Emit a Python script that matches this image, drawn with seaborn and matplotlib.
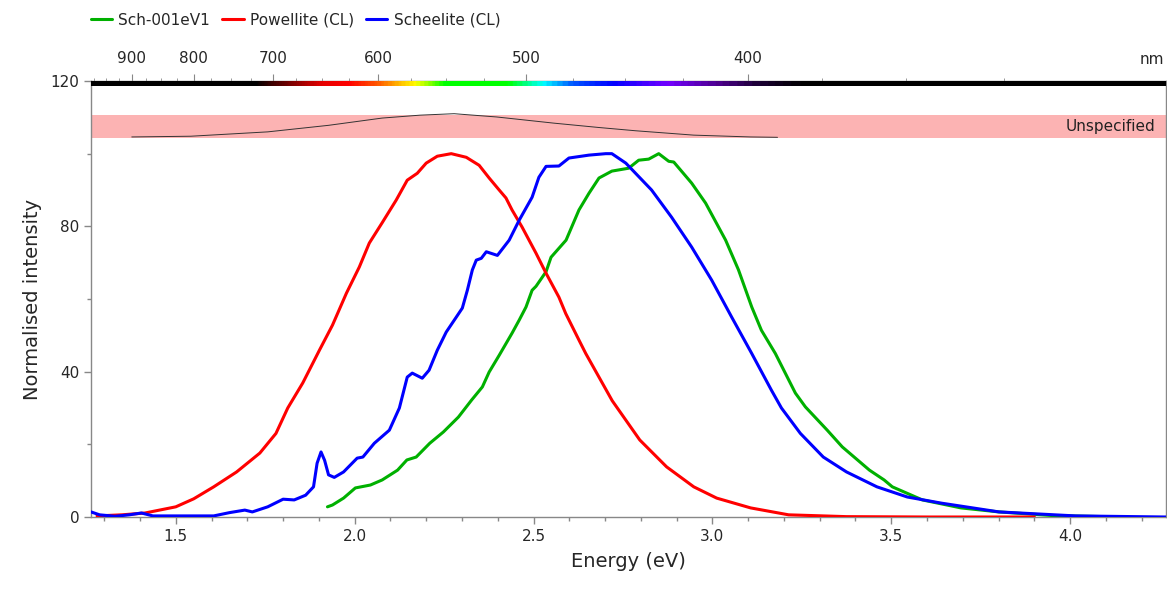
import numpy as np
import pandas as pd
import seaborn as sns
import matplotlib.pyplot as plt
import matplotlib.ticker as ticker
from matplotlib.colors import LinearSegmentedColormap

# Powellite (CL)
pow_ev = [1.28, 1.35, 1.414, 1.5, 1.55, 1.606, 1.67, 1.735, 1.78, 1.813, 1.855,
          1.902, 1.938, 1.977, 2.013, 2.041, 2.077, 2.116, 2.147, 2.175, 2.2,
          2.231, 2.27, 2.312, 2.348, 2.376, 2.404, 2.423, 2.44, 2.468, 2.507,
          2.535, 2.571, 2.59, 2.627, 2.646, 2.683, 2.72, 2.797, 2.872, 2.948,
          3.012, 3.107, 3.213, 3.375, 3.6, 3.9]
pow_int = [0.3, 0.6, 1.1, 2.8, 5.0, 8.3, 12.4, 17.6, 23.0, 30.0, 36.9,
           46.0, 52.8, 61.6, 68.8, 75.4, 81.0, 87.2, 92.7, 94.6, 97.4,
           99.3, 100.0, 99.0, 96.8, 93.3, 90.0, 87.8, 84.5, 79.8, 72.6,
           67.1, 60.5, 56.0, 48.7, 45.0, 38.5, 32.0, 21.2, 13.8, 8.3,
           5.2, 2.5, 0.6, 0.1, 0.0, 0.0]

# Scheelite (CL)
sch_ev = [1.263, 1.287, 1.33, 1.37, 1.404, 1.436, 1.542, 1.606, 1.65, 1.693,
          1.714, 1.757, 1.8, 1.831, 1.863, 1.885, 1.895, 1.906, 1.916, 1.927,
          1.943, 1.969, 2.007, 2.023, 2.055, 2.097, 2.125, 2.147, 2.161, 2.189,
          2.208, 2.231, 2.256, 2.284, 2.301, 2.315, 2.329, 2.34, 2.354, 2.368,
          2.399, 2.432, 2.46, 2.496, 2.515, 2.535, 2.571, 2.599, 2.655, 2.702,
          2.719, 2.758, 2.83, 2.886, 2.942, 2.998, 3.054, 3.11, 3.165, 3.193,
          3.246, 3.31, 3.375, 3.46, 3.545, 3.641, 3.801, 4.015, 4.268]
sch_int = [1.4, 0.6, 0.2, 0.6, 1.1, 0.3, 0.3, 0.3, 1.2, 1.9,
           1.4, 2.8, 4.9, 4.7, 6.0, 8.3, 14.8, 17.9, 15.6, 11.6,
           10.9, 12.4, 16.2, 16.5, 20.3, 23.9, 30.0, 38.5, 39.6, 38.2,
           40.4, 45.9, 50.9, 55.0, 57.5, 62.4, 68.0, 70.7, 71.2, 73.0,
           72.0, 76.2, 81.7, 88.0, 93.5, 96.5, 96.6, 98.8, 99.6, 100.0,
           100.0, 97.4, 90.0, 82.5, 74.3, 65.2, 55.0, 45.0, 34.9, 30.0,
           23.0, 16.5, 12.4, 8.3, 5.5, 3.8, 1.4, 0.3, 0.0]

# Sch-001eV1
s001_ev = [1.924, 1.938, 1.969, 2.002, 2.044, 2.077, 2.12, 2.146, 2.172, 2.21,
           2.248, 2.29, 2.327, 2.357, 2.376, 2.404, 2.44, 2.46, 2.479, 2.496,
           2.507, 2.535, 2.549, 2.591, 2.627, 2.655, 2.683, 2.719, 2.766, 2.794,
           2.822, 2.85, 2.878, 2.892, 2.942, 2.981, 3.037, 3.073, 3.11, 3.137,
           3.176, 3.232, 3.26, 3.321, 3.363, 3.439, 3.48, 3.503, 3.587, 3.695,
           3.801, 3.95, 4.1]
s001_int = [2.8, 3.3, 5.2, 8.0, 8.8, 10.2, 12.9, 15.7, 16.5, 20.3,
            23.4, 27.5, 32.2, 35.8, 39.9, 44.5, 50.6, 54.2, 57.8, 62.4,
            63.5, 67.5, 71.5, 76.2, 84.5, 89.1, 93.3, 95.2, 96.0, 98.2,
            98.5, 100.0, 97.9, 97.7, 91.9, 86.4, 76.2, 68.0, 57.8, 51.4,
            45.0, 34.1, 30.3, 23.9, 19.3, 12.9, 10.2, 8.3, 4.7, 2.5,
            1.4, 0.4, 0.1]

# "Unspecified" band and its response curve
band_lo, band_hi = 104.3, 110.7
resp_ev = [1.377, 1.542, 1.757, 1.927, 2.077, 2.183, 2.278, 2.397, 2.557,
           2.683, 2.786, 2.948, 3.107, 3.182]
resp_val = [104.6, 104.8, 106.0, 107.8, 109.8, 110.6, 111.0, 110.1, 108.4,
            107.2, 106.3, 105.1, 104.6, 104.5]

# visible spectrum stops (nm, colour) for the top bar
spec_nm = [300, 380, 395, 410, 430, 455, 475, 490, 510, 550, 571, 600, 625,
           650, 675, 700, 720, 1000]
spec_col = ['#000000', '#000000', '#1a0033', '#4d008c', '#7300ff', '#0000ff',
            '#0059ff', '#00ffff', '#00ff00', '#00ff00', '#ffff00', '#ff5900',
            '#ff0000', '#e60000', '#8c0000', '#400000', '#000000', '#000000']

nm_major = [400, 500, 600, 700, 800, 900]
nm_minor = list(range(325, 1000, 25))

xmin, xmax = 1.263, 4.268
HC = 1239.84

sns.set_style('white')
plt.rcParams['font.family'] = ['DejaVu Sans']

fig = plt.figure(figsize=(11.67, 5.89), dpi=100)
ax = fig.add_axes([91 / 1167, 1 - 517 / 589, 1075 / 1167, 436 / 589])

ax.axhspan(band_lo, band_hi, color='#fcb3b3', lw=0, zorder=1)
sns.lineplot(x=resp_ev, y=resp_val, color='#333333', lw=0.7, ax=ax, zorder=2)
ax.text(xmax - 0.03, (band_lo + band_hi) / 2, 'Unspecified', ha='right',
        va='center', fontsize=11, color='#222222', zorder=3)

# spectrum bar
pos = [(n - spec_nm[0]) / (spec_nm[-1] - spec_nm[0]) for n in spec_nm]
cmap = LinearSegmentedColormap.from_list('spec', list(zip(pos, spec_col)))
ev_grid = np.linspace(xmin, xmax, 800)
nm_grid = HC / ev_grid
img = cmap((nm_grid - spec_nm[0]) / (spec_nm[-1] - spec_nm[0]))[np.newaxis, :, :]
ax.imshow(img, extent=[xmin, xmax, 118.5, 120], aspect='auto', zorder=3,
          interpolation='bilinear')

series = [
    ('Sch-001eV1', s001_ev, s001_int, '#00b000'),
    ('Powellite (CL)', pow_ev, pow_int, '#ff0000'),
    ('Scheelite (CL)', sch_ev, sch_int, '#0000ff'),
]
for name, xs, ys, col in series:
    df = pd.DataFrame({'energy': xs, 'intensity': ys})
    sns.lineplot(df, x='energy', y='intensity', color=col, lw=2.2,
                 label=name, ax=ax, zorder=4)

ax.set_xlim(xmin, xmax)
ax.set_ylim(0, 120)

ax.xaxis.set_major_locator(ticker.MultipleLocator(0.5))
ax.xaxis.set_minor_locator(ticker.MultipleLocator(0.1))
ax.xaxis.set_major_formatter(ticker.FormatStrFormatter('%.1f'))
ax.yaxis.set_major_locator(ticker.MultipleLocator(40))
ax.yaxis.set_minor_locator(ticker.MultipleLocator(20))
ax.tick_params(which='both', direction='out', color='#888888', labelsize=11,
               bottom=True, left=True)
ax.tick_params(which='major', length=5, width=1)
ax.tick_params(which='minor', length=3, width=1)
for s in ax.spines.values():
    s.set_color('#888888')
    s.set_linewidth(1)

ax.set_xlabel('Energy (eV)', fontsize=14, labelpad=6)
ax.set_ylabel('Normalised intensity', fontsize=14, labelpad=6)


def ev_nm(x):
    x = np.asarray(x, dtype=float)
    return np.divide(HC, x, out=np.full_like(x, np.inf), where=x != 0)


secax = ax.secondary_xaxis('top', functions=(ev_nm, ev_nm))
secax.set_xticks(nm_major)
secax.set_xticks(nm_minor, minor=True)
secax.xaxis.set_major_formatter(ticker.FormatStrFormatter('%d'))
secax.tick_params(which='both', direction='out', color='#888888', labelsize=11)
secax.tick_params(which='major', length=5, pad=6)
secax.tick_params(which='minor', length=2.5)
secax.spines['top'].set_color('#888888')
ax.annotate('nm', xy=(1, 1), xycoords='axes fraction', xytext=(-1, 10),
            textcoords='offset points', ha='right', va='bottom', fontsize=11)

ax.get_legend().remove()
handles, labels = ax.get_legend_handles_labels()
fig.legend(handles, labels, loc='center left', bbox_to_anchor=(0.066, 0.966),
           ncol=3, frameon=False, fontsize=11, handlelength=1.4,
           handletextpad=0.4, columnspacing=0.8)

fig.savefig('out.png', dpi=100)
